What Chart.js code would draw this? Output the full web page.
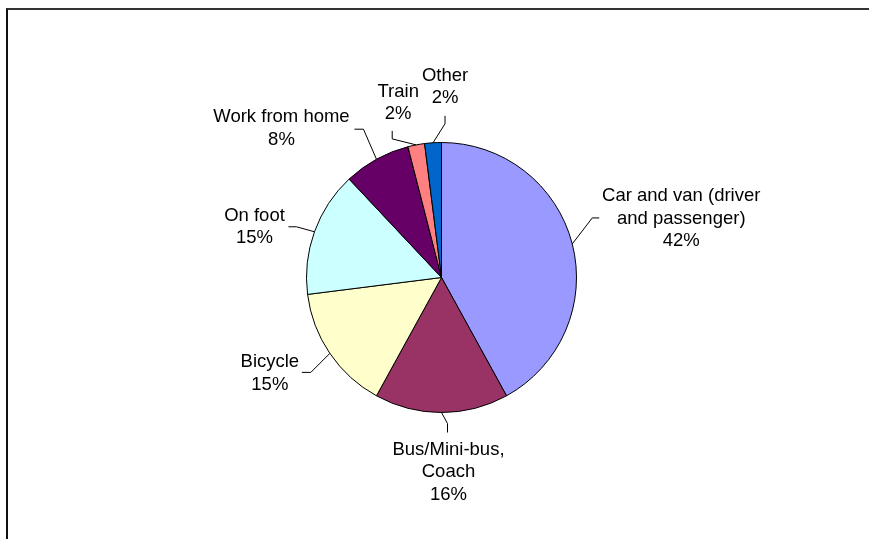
<!DOCTYPE html>
<html>
<head>
<meta charset="utf-8">
<script src="https://cdn.jsdelivr.net/npm/chart.js@4"></script>
<style>
    html, body { margin: 0; padding: 0; background: #fff; }
    #wrap { position: relative; width: 869px; height: 539px; }
    #frame {
        position: absolute; left: 6px; top: 8px; right: 0; bottom: 0;
        border-left: 2px solid #111; border-top: 2px solid #333;
    }
    canvas { position: absolute; left: 0; top: 0; }
</style>
</head>
<body>
<div id="wrap">
    <div id="frame"></div>
    <canvas id="travelChart" width="869" height="539"></canvas>
</div>
<script>
const categories = [
    "Car and van (driver\nand passenger)",
    "Bus/Mini-bus,\nCoach",
    "Bicycle",
    "On foot",
    "Work from home",
    "Train",
    "Other"
];
const shares = [42, 16, 15, 15, 8, 2, 2];
const sliceColours = ["#9999FF", "#993366", "#FFFFCC", "#CCFFFF", "#660066", "#FF8080", "#0066CC"];

// where each label sits, relative to the middle of its slice's rim
const labelLayout = [
    { elbow: [20, -26], end: [27, -26], text: [109, -48] },
    { elbow: [6, 11], end: [6, 20], text: [7, 37] },
    { elbow: [-19, 19], end: [-28, 19], text: [-60, 9] },
    { elbow: [-18, -5], end: [-26, -5], text: [-60, -16] },
    { elbow: [-13, -30], end: [-22, -30], text: [-95, -42] },
    { elbow: [-24, -6], end: [-24, -14], text: [-18, -53] },
    { elbow: [12, -19], end: [12, -27], text: [12, -67] }
];

const leaderLabels = {
    id: 'leaderLabels',
    afterDraw(chart) {
        const ctx = chart.ctx;
        const meta = chart.getDatasetMeta(0);
        const total = shares.reduce((a, b) => a + b, 0);
        ctx.save();
        ctx.font = '18.5px "Liberation Sans", Arial, sans-serif';
        ctx.textAlign = 'center';
        ctx.textBaseline = 'middle';
        ctx.fillStyle = '#000';
        ctx.strokeStyle = '#000';
        ctx.lineWidth = 1;
        meta.data.forEach((arc, i) => {
            const p = arc.getProps(['x', 'y', 'startAngle', 'endAngle', 'outerRadius'], true);
            const mid = (p.startAngle + p.endAngle) / 2;
            const px = p.x + Math.cos(mid) * p.outerRadius;
            const py = p.y + Math.sin(mid) * p.outerRadius;
            const lay = labelLayout[i];

            ctx.beginPath();
            ctx.moveTo(px, py);
            ctx.lineTo(px + lay.elbow[0], py + lay.elbow[1]);
            ctx.lineTo(px + lay.end[0], py + lay.end[1]);
            ctx.stroke();

            const pct = Math.round(shares[i] / total * 100) + '%';
            const lines = categories[i].split('\n').concat(pct);
            lines.forEach((t, k) => {
                ctx.fillText(t, px + lay.text[0], py + lay.text[1] + k * 22.5);
            });
        });
        ctx.restore();
    }
};

new Chart(document.getElementById('travelChart'), {
    type: 'pie',
    data: {
        labels: categories,
        datasets: [{
            data: shares,
            backgroundColor: sliceColours,
            borderColor: '#000',
            borderWidth: 1,
            hoverOffset: 0
        }]
    },
    options: {
        responsive: false,
        animation: false,
        layout: { padding: { left: 306, right: 292, top: 142, bottom: 126 } },
        plugins: {
            legend: { display: false },
            tooltip: { enabled: false }
        }
    },
    plugins: [leaderLabels]
});
</script>
</body>
</html>
